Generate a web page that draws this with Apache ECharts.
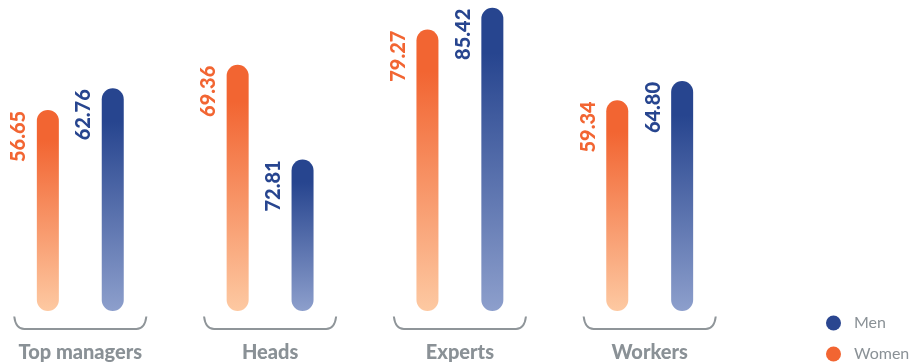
<!DOCTYPE html>
<html>
<head>
<meta charset="utf-8">
<script src="https://cdn.jsdelivr.net/npm/echarts@6/dist/echarts.min.js"></script>
<style>
html,body{margin:0;padding:0;background:#fff;}
#chart{width:913px;height:364px;}
</style>
</head>
<body>
<div id="chart"></div>
<script>
const categories = ['Top managers', 'Heads', 'Experts', 'Workers'];
// bar heights as drawn in the picture
const womenBars = [56.65, 69.36, 79.27, 59.34];
const menBars = [62.76, 42.7, 85.42, 64.80];
// value labels as printed
const womenLabels = ['56.65', '69.36', '79.27', '59.34'];
const menLabels = ['62.76', '72.81', '85.42', '64.80'];

const FONT = 'Lato';
const ORANGE = '#F26532', ORANGE_L = '#FDC9A2';
const BLUE = '#27458F', BLUE_L = '#8D9FCC';
const GRAY = '#8A9196';

function grad(top, bottom) {
  return new echarts.graphic.LinearGradient(0, 0, 0, 1, [
    {offset: 0, color: top},
    {offset: 0.15, color: top},
    {offset: 1, color: bottom}
  ]);
}

function barLabel(labels, color) {
  return {
    show: true,
    position: [-18, 1],
    rotate: 90,
    align: 'right',
    verticalAlign: 'middle',
    color: color,
    fontFamily: FONT,
    fontWeight: 900,
    fontSize: 20,
    formatter: p => labels[p.dataIndex]
  };
}

const chart = echarts.init(document.getElementById('chart'));
chart.setOption({
  animation: false,
  grid: {left: 80.3, width: 569.4, top: 0, bottom: 53},
  xAxis: {
    type: 'category',
    data: categories,
    boundaryGap: false,
    axisLine: {show: false},
    axisTick: {show: false},
    axisLabel: {
      color: GRAY, fontFamily: FONT, fontWeight: 900, fontSize: 20, margin: 32
    }
  },
  yAxis: {type: 'value', min: 0, max: 87.6, show: false, splitLine: {show: false}},
  legend: {
    orient: 'vertical',
    left: 826,
    top: 315,
    padding: 0,
    itemWidth: 15,
    itemHeight: 15,
    itemGap: 15,
    icon: 'circle',
    textStyle: {color: GRAY, fontFamily: FONT, fontSize: 16, padding: [0, 0, 0, 8]},
    data: [
      {name: 'Men', itemStyle: {color: '#2A4690'}},
      {name: 'Women', itemStyle: {color: '#F26532'}}
    ]
  },
  series: [
    {
      name: 'Women', type: 'bar', data: womenBars, barWidth: 22, barGap: '195%', clip: false,
      itemStyle: {color: grad(ORANGE, ORANGE_L), borderRadius: 11},
      label: barLabel(womenLabels, ORANGE)
    },
    {
      name: 'Men', type: 'bar', data: menBars, barWidth: 22, barGap: '195%', clip: false,
      itemStyle: {color: grad(BLUE, BLUE_L), borderRadius: 11},
      label: barLabel(menLabels, BLUE)
    },
    {
      name: 'brace', type: 'custom', silent: true, clip: false,
      data: categories.map((c, i) => [i, 0]),
      encode: {x: 0, y: 1},
      renderItem: function (params, api) {
        const p = api.coord([api.value(0), 0]);
        const band = api.size([1, 0])[0];
        const half = band * 0.348;
        const x0 = p[0] - half, x1 = p[0] + half;
        const yTop = p[1] + 5.5, yBot = p[1] + 18;
        const r = 10;
        const d = `M${x0} ${yTop} C${x0 + 1} ${yBot - 4} ${x0 + 4} ${yBot} ${x0 + r} ${yBot} L${x1 - r} ${yBot} C${x1 - 4} ${yBot} ${x1 - 1} ${yBot - 4} ${x1} ${yTop}`;
        return {
          type: 'path',
          shape: {pathData: d},
          style: {fill: null, stroke: '#8F9599', lineWidth: 2}
        };
      }
    }
  ]
});
</script>
</body>
</html>
